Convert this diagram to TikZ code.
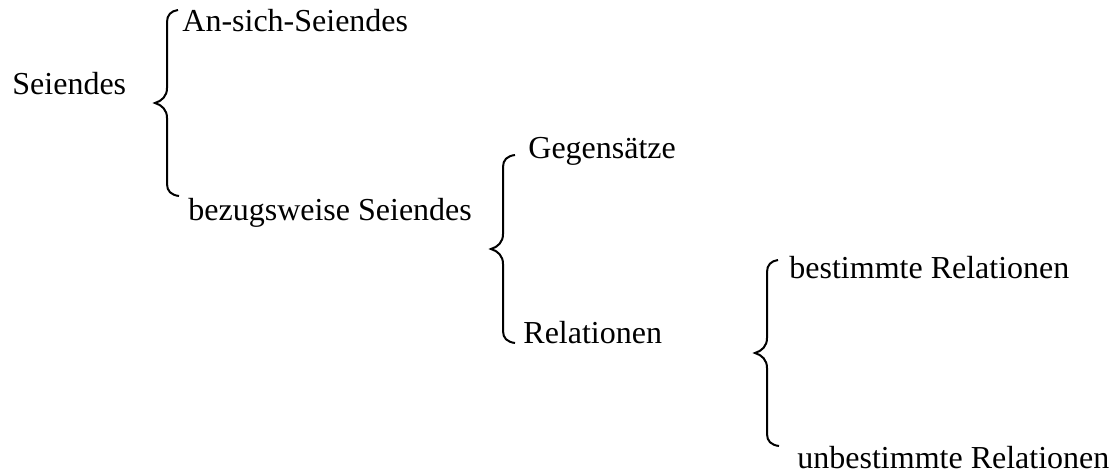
\documentclass[tikz,border=0pt]{standalone}
\usepackage{fontspec}
\setmainfont{Liberation Serif}
\usetikzlibrary{positioning}

\begin{document}
\begin{tikzpicture}[x=.5pt,y=-.5pt,
	wort/.style={anchor=base west,inner sep=0pt,font=\fontsize{16}{19}\selectfont},
	klammer/.style={line width=1pt}]
			\useasboundingbox (0,0) rectangle (1113,475);
			
			\node[wort] (seiendes) at (12,95) {Seiendes};
			\node[wort] (ansich) at (182,32) {An-sich-Seiendes};
			\node[wort] (bezug) at (188,221) {bezugsweise Seiendes};
			
			\draw[klammer] (178,10) .. controls (171,11) and (167,15) .. (167,22) -- (167,88)
				.. controls (167,96) and (162,101) .. (155,103) .. controls (162,105) and (167,110) .. (167,118)
				-- (167,184) .. controls (167,191) and (171,195) .. (179,196);
			
			\node[wort] (gegensaetze) at (528,159) {Gegensätze};
			\node[wort] (relationen) at (523,344) {Relationen};
			
			\draw[klammer] (515,155) .. controls (507,156) and (503,160) .. (503,167) -- (503,234)
				.. controls (503,242) and (498,247) .. (491,249) .. controls (498,251) and (503,256) .. (503,264)
				-- (503,331) .. controls (503,338) and (507,342) .. (515,343);
			
			\node[wort] (bestimmt) at (789,279) {bestimmte Relationen};
			\node[wort] (unbestimmt) at (797,468) {unbestimmte Relationen};
			
			\draw[klammer] (778,260) .. controls (771,261) and (767,265) .. (767,272) -- (767,338)
				.. controls (767,346) and (762,351) .. (755,353) .. controls (762,355) and (767,360) .. (767,368)
				-- (767,434) .. controls (767,441) and (771,445) .. (779,446);
\end{tikzpicture}
\end{document}
